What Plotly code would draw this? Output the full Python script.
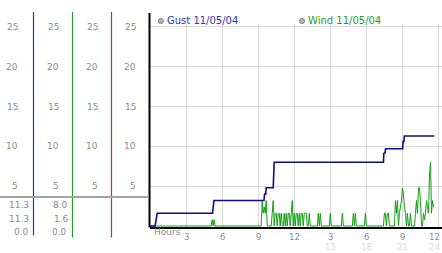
import plotly.graph_objects as go

W, H = 442, 253

# ---------------- data ----------------
gust_hours = [0, 0.42, 0.6, 5.2, 5.32, 9.48, 9.53, 9.62, 9.67, 10.25, 10.33,
              19.42, 19.45, 19.55, 19.6, 21.02, 21.05, 21.12, 21.16, 23.65]
gust_mph = [0, 0, 1.6, 1.6, 3.2, 3.2, 4.0, 4.0, 4.8, 4.8, 8.0,
            8.0, 9.1, 9.2, 9.7, 9.7, 10.6, 10.6, 11.3, 11.3]

# wind speed, one sample every 5 minutes (12 per hour), from 00:00
wind_mph = [
    0, 0, 0, 0, 0, 0, 0, 0, 0, 0, 0, 0,            # 00h
    0, 0, 0, 0, 0, 0, 0, 0, 0, 0, 0, 0,            # 01h
    0, 0, 0, 0, 0, 0, 0, 0, 0, 0, 0, 0,            # 02h
    0, 0, 0, 0, 0, 0, 0, 0, 0, 0, 0, 0,            # 03h
    0, 0, 0, 0, 0, 0, 0, 0, 0, 0, 0, 0,            # 04h
    0, 0, 0.8, 0, 0.8, 0, 0, 0, 0, 0, 0, 0,        # 05h
    0, 0, 0, 0, 0, 0, 0, 0, 0, 0, 0, 0,            # 06h
    0, 0, 0, 0, 0, 0, 0, 0, 0, 0, 0, 0,            # 07h
    0, 0, 0, 0, 0, 0, 0, 0, 0, 0, 0, 0,            # 08h
    0, 0, 0, 0, 3.2, 1.6, 2.4, 1.6, 3.2, 0, 0, 0,  # 09h
    0, 0, 1.6, 3.2, 0, 1.6, 1.6, 0, 1.6, 1.6, 0, 1.6,      # 10h
    0, 0, 1.6, 0, 1.6, 0, 1.6, 1.6, 0, 1.6, 3.2, 0,        # 11h
    1.6, 0, 1.6, 1.6, 0, 1.6, 0, 1.6, 1.6, 0, 1.6, 1.6,    # 12h
    1.6, 0, 0, 1.6, 0, 0, 0, 0, 0, 0, 0, 0,        # 13h
    1.6, 0, 1.6, 0, 0, 0, 0, 0, 0, 0, 0, 0,        # 14h
    1.6, 0, 0, 0, 0, 0, 0, 0, 0, 0, 0, 0,          # 15h
    1.6, 0, 0, 0, 0, 0, 0, 0, 0, 0, 0, 1.6,        # 16h
    0, 1.6, 0, 0, 0, 0, 0, 0, 0, 0, 0, 1.6,        # 17h
    0, 0, 0, 0, 0, 0, 0, 0, 0, 0, 0, 0,            # 18h
    0, 0, 0, 0, 0, 0, 1.6, 1.6, 0, 1.6, 1.6, 0,    # 19h
    0, 0, 0, 0, 0, 3.2, 1.6, 3.2, 0, 1.6, 2.4, 3.2,        # 20h
    4.8, 4.0, 2.4, 1.6, 0, 1.6, 0, 0, 1.6, 0, 0, 0,        # 21h
    0, 1.6, 3.2, 1.6, 4.8, 4.8, 3.2, 0, 0, 1.6, 0.8, 1.6,  # 22h
    3.2, 2.4, 1.6, 6.4, 8.0, 1.6, 3.2, 2.4,                # 23h
]
wind_hours = [i / 12 for i in range(len(wind_mph))]

y_ticks = [5, 10, 15, 20, 25]
x_ticks = [3, 6, 9, 12, 15, 18, 21, 24]
x_labels_top = ["3", "6", "9", "12", "3", "6", "9", "12"]
x_labels_low_pos = [15, 18, 21, 24]
x_labels_low = ["15", "18", "21", "24"]

gust_stats = ["11.3", "11.3", "0.0"]
wind_stats = ["8.0", "1.6", "0.0"]

legend_gust = "Gust 11/05/04"
legend_wind = "Wind 11/05/04"

# ---------------- styling ----------------
FONT = "DejaVu Sans"
GRAY = "#8c8c8c"
GRID = "#dadada"
NAVY = "#0c0c8e"
GREEN = "#12a012"

def px(x):
    return x / W

def py(y):
    return 1 - y / H

X_RANGE = [0, 24.29]
Y_RANGE = [-0.12, 25.4]

fig = go.Figure()

fig.add_trace(go.Scatter(x=wind_hours, y=wind_mph, mode="lines",
                         line=dict(color=GREEN, width=1), hoverinfo="skip",
                         showlegend=False))
fig.add_trace(go.Scatter(x=gust_hours, y=gust_mph, mode="lines",
                         line=dict(color=NAVY, width=1.6), hoverinfo="skip",
                         showlegend=False))

# small tick glyphs
fig.add_trace(go.Scatter(x=[-0.36] * len(y_ticks), y=y_ticks, mode="markers",
                         marker=dict(symbol="x-thin", size=4,
                                     line=dict(color="#a8a8a8", width=1)),
                         cliponaxis=False, hoverinfo="skip", showlegend=False))
fig.add_trace(go.Scatter(x=x_ticks, y=[-0.63] * len(x_ticks), mode="markers",
                         marker=dict(symbol="x-thin", size=4,
                                     line=dict(color="#a8a8a8", width=1)),
                         cliponaxis=False, hoverinfo="skip", showlegend=False))

shapes = []
# main y axis line
shapes.append(dict(type="line", xref="paper", yref="paper",
                   x0=px(149.5), x1=px(149.5), y0=py(13), y1=py(227.5),
                   line=dict(color="black", width=2)))
# left panel coloured column lines
for xx, col, yb in [(33.5, "#1f3c9c", 235.5), (72.5, "#2a9a2a", 237.5),
                    (111.5, "#b03434", 237.5)]:
    shapes.append(dict(type="line", xref="paper", yref="paper",
                       x0=px(xx), x1=px(xx), y0=py(12), y1=py(yb),
                       line=dict(color=col, width=1.2)))
# gray separator
shapes.append(dict(type="line", xref="paper", yref="paper",
                   x0=0, x1=px(148.5), y0=py(197), y1=py(197),
                   line=dict(color="#a4a4a4", width=2)))
# legend dots
for cx in [160.8, 302]:
    shapes.append(dict(type="circle", xref="paper", yref="paper",
                       x0=px(cx - 2.6), x1=px(cx + 2.6), y0=py(21 + 2.6), y1=py(21 - 2.6),
                       fillcolor="#b4b4b4", line=dict(color="#8a8a8a", width=1)))

ann = []
# left panel y labels (4 columns)
for right in [20, 60.5, 99.5, 138]:
    for v in y_ticks:
        ann.append(dict(x=px(right), xref="paper", y=v, yref="y", text=str(v),
                        xanchor="right", yanchor="middle", showarrow=False,
                        font=dict(family=FONT, size=9, color=GRAY)))
# stats
for t, yy, xl in zip(gust_stats, [205, 219, 232], [6.5, 6.5, 12]):
    ann.append(dict(x=px(xl), xref="paper", y=py(yy), yref="paper", text=t,
                    xanchor="left", yanchor="middle", showarrow=False,
                    font=dict(family=FONT, size=9, color=GRAY)))
for t, yy, xl in zip(wind_stats, [205, 219, 232], [51, 51.5, 50]):
    ann.append(dict(x=px(xl), xref="paper", y=py(yy), yref="paper", text=t,
                    xanchor="left", yanchor="middle", showarrow=False,
                    font=dict(family=FONT, size=9, color=GRAY)))
# x labels (last column is pulled in so it stays inside the page)
for xv, t in zip(x_ticks, x_labels_top):
    last = xv == x_ticks[-1]
    ann.append(dict(x=px(441.5) if last else xv, xref="paper" if last else "x",
                    y=py(237.3), yref="paper", text=t,
                    xanchor="right" if last else "center", yanchor="middle",
                    showarrow=False, font=dict(family=FONT, size=8.5, color=GRAY)))
for xv, t in zip(x_labels_low_pos, x_labels_low):
    last = xv == x_labels_low_pos[-1]
    ann.append(dict(x=px(441.5) if last else xv, xref="paper" if last else "x",
                    y=py(247.2), yref="paper", text=t,
                    xanchor="right" if last else "center", yanchor="middle",
                    showarrow=False, font=dict(family=FONT, size=8.5, color="#d6d6d6")))
ann.append(dict(x=px(152), xref="paper", y=py(231.5), yref="paper", text="Hours",
                xanchor="left", yanchor="middle", showarrow=False,
                font=dict(family=FONT, size=9, color=GRAY)))
# legend texts
ann.append(dict(x=px(164.5), xref="paper", y=py(21), yref="paper", text=legend_gust,
                xanchor="left", yanchor="middle", showarrow=False,
                font=dict(family=FONT, size=10, color="#2c34b4")))
ann.append(dict(x=px(305.5), xref="paper", y=py(21), yref="paper", text=legend_wind,
                xanchor="left", yanchor="middle", showarrow=False,
                font=dict(family=FONT, size=10, color="#1e9e1e")))

fig.update_layout(
    width=W, height=H, margin=dict(l=0, r=0, t=0, b=0),
    paper_bgcolor="white", plot_bgcolor="white",
    shapes=shapes, annotations=ann, showlegend=False,
    xaxis=dict(domain=[px(150), 1.0], range=X_RANGE, tickvals=x_ticks,
               showticklabels=False, ticks="", showgrid=True, gridcolor=GRID,
               gridwidth=1, zeroline=False, showline=True, linecolor="black",
               linewidth=2, fixedrange=True),
    yaxis=dict(domain=[py(226.96), py(23.8)], range=Y_RANGE, tickvals=y_ticks,
               showticklabels=False, ticks="", showgrid=True, gridcolor=GRID,
               gridwidth=1, zeroline=False, showline=False, fixedrange=True),
)

fig.write_html("out.html")
